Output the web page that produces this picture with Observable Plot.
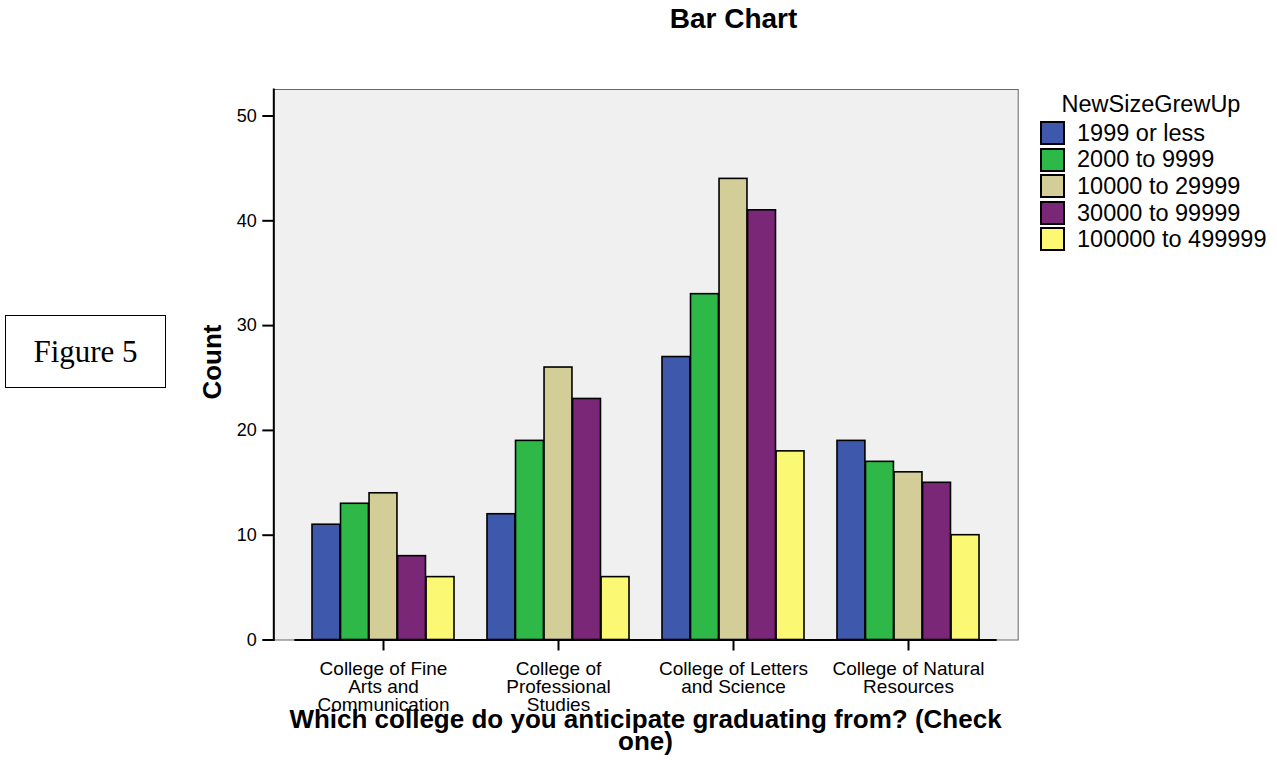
<!DOCTYPE html>
<html>
<head>
<meta charset="utf-8">
<script src="https://cdn.jsdelivr.net/npm/d3@7"></script>
<script src="https://cdn.jsdelivr.net/npm/@observablehq/plot@0.6"></script>
<style>
  html, body { margin: 0; padding: 0; background: #fff; }
  #wrap { position: relative; width: 1277px; height: 760px; overflow: hidden; font-family: "Liberation Sans", Arial, sans-serif; color: #000; }
  #wrap svg { position: absolute; left: 0; top: 0; }
  .abs { position: absolute; white-space: nowrap; line-height: 1; }
</style>
</head>
<body>
<div id="wrap"></div>
<script>
// ---- data ----
const colleges = [
  "College of Fine Arts and Communication",
  "College of Professional Studies",
  "College of Letters and Science",
  "College of Natural Resources"
];
const tickLabels = [
  "College of Fine\nArts and\nCommunication",
  "College of\nProfessional\nStudies",
  "College of Letters\nand Science",
  "College of Natural\nResources"
];
const sizes = ["1999 or less", "2000 to 9999", "10000 to 29999", "30000 to 99999", "100000 to 499999"];
const count1999 = [11, 12, 27, 19];
const count2000 = [13, 19, 33, 17];
const count10000 = [14, 26, 44, 16];
const count30000 = [8, 23, 41, 15];
const count100000 = [6, 6, 18, 10];
const colors = ["#3e58ac", "#2eb848", "#d3ce97", "#7b2778", "#fbf873"];
const yTicks = [0, 10, 20, 30, 40, 50];
const title = "Bar Chart";
const legendTitle = "NewSizeGrewUp";
const yLabel = "Count";
const xLabel = ["Which college do you anticipate graduating from? (Check", "one)"];
const figureLabel = "Figure 5";

const seriesCounts = [count1999, count2000, count10000, count30000, count100000];
const table = [];
sizes.forEach((s, i) => colleges.forEach((c, j) => table.push({college: c, size: s, count: seriesCounts[i][j]})));

// ---- layout constants ----
const W = 1277, H = 760;
const mL = 273.3, mR = W - 1017.7, mT = 89, mB = H - 639.5;
const barW = 28.52;

const bars = sizes.map((s, i) => Plot.barY(table.filter(d => d.size === s), {
  x: "college", y: "count", fill: "size",
  stroke: "#000", strokeWidth: 1.6,
  insetLeft: i * barW, insetRight: (sizes.length - 1 - i) * barW
}));

const chart = Plot.plot({
  width: W, height: H,
  marginLeft: mL, marginRight: mR, marginTop: mT, marginBottom: mB,
  style: {fontFamily: "'Liberation Sans', Arial, sans-serif", color: "#000", background: "transparent", overflow: "visible"},
  x: {type: "band", domain: colleges, paddingInner: 0.1877, paddingOuter: 0.2143, align: 0.5},
  y: {domain: [0, 52.53]},
  color: {domain: sizes, range: colors},
  marks: [
    Plot.frame({fill: "#f0f0f0", stroke: "#666", strokeWidth: 1}),
    ...bars,
    Plot.ruleY([0], {stroke: "#000", strokeWidth: 2, insetLeft: 21, insetRight: 21}),
    Plot.frame({anchor: "left", stroke: "#000", strokeWidth: 2}),
    Plot.axisY({ticks: yTicks, tickSize: 11, tickPadding: 6, fontSize: 18, strokeWidth: 2, label: null}),
    Plot.axisX({tickSize: 11, tickPadding: 11, fontSize: 19, strokeWidth: 2, lineHeight: 0.95, label: null,
      tickFormat: d => tickLabels[colleges.indexOf(d)]})
  ]
});

const wrap = document.getElementById("wrap");
wrap.appendChild(chart);

function addText(txt, opts) {
  const d = document.createElement("div");
  d.className = "abs";
  d.textContent = txt;
  const fs = opts.fontSize;
  d.style.fontSize = fs + "px";
  if (opts.bold) d.style.fontWeight = "bold";
  if (opts.family) d.style.fontFamily = opts.family;
  const top = opts.baseline - 0.8465 * fs;
  d.style.top = top + "px";
  if (opts.center != null) {
    d.style.left = (opts.center - 400) + "px";
    d.style.width = "800px";
    d.style.textAlign = "center";
  } else {
    d.style.left = opts.left + "px";
  }
  wrap.appendChild(d);
  return d;
}

// title
addText(title, {fontSize: 28, bold: true, baseline: 28.5, center: 733.5});
// x axis title
addText(xLabel[0], {fontSize: 26, bold: true, baseline: 728, center: 645.5});
addText(xLabel[1], {fontSize: 26, bold: true, baseline: 750, center: 645.5});
// y label rotated
const yl = document.createElement("div");
yl.className = "abs";
yl.textContent = yLabel;
Object.assign(yl.style, {fontSize: "26px", fontWeight: "bold", left: (212 - 100) + "px", top: (362 - 15) + "px",
  width: "200px", height: "30px", lineHeight: "30px", textAlign: "center", transform: "rotate(-90deg)"});
wrap.appendChild(yl);

// legend
addText(legendTitle, {fontSize: 23.5, baseline: 113, center: 1151});
sizes.forEach((s, i) => {
  const sw = document.createElement("div");
  Object.assign(sw.style, {position: "absolute", left: "1040px", top: (121 + i * 26.6) + "px", width: "25px", height: "24px",
    boxSizing: "border-box", border: "2px solid #000", background: colors[i]});
  wrap.appendChild(sw);
  addText(s, {fontSize: 23.5, baseline: 141.7 + i * 26.6, left: 1077});
});

// figure box
const fb = document.createElement("div");
Object.assign(fb.style, {position: "absolute", left: "5px", top: "315px", width: "161px", height: "73px", boxSizing: "border-box",
  border: "1.5px solid #000", display: "flex", alignItems: "center", justifyContent: "center",
  fontFamily: "'Liberation Serif', 'Times New Roman', serif", fontSize: "31px"});
fb.textContent = figureLabel;
wrap.appendChild(fb);
</script>
</body>
</html>
